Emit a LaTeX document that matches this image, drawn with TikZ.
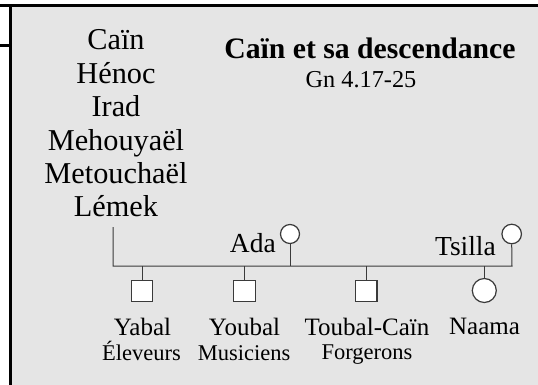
\documentclass[tikz,border=0pt]{standalone}
\usepackage{fontspec}
\setmainfont{Liberation Serif}
\definecolor{bgray}{HTML}{E5E5E5}
\definecolor{lgray}{HTML}{3A3A3A}
\begin{document}
\begin{tikzpicture}[x=1pt,y=-1pt,
  anc/.style={anchor=base,inner sep=0pt,font=\fontsize{30.3}{33}\selectfont},
  spouse/.style={anchor=base east,inner sep=0pt,font=\fontsize{27.5}{30}\selectfont},
  child/.style={anchor=base,inner sep=0pt,font=\fontsize{25}{27}\selectfont},
  occ/.style={anchor=base,inner sep=0pt,font=\fontsize{22.5}{24}\selectfont},
  male/.style={draw=lgray,fill=white,line width=1.2pt,minimum size=21.5pt,inner sep=0pt,rectangle},
  female/.style={draw=lgray,fill=white,line width=1.2pt,inner sep=0pt,circle},
  link/.style={draw=lgray,line width=1pt}]
\useasboundingbox (0,0) rectangle (538,385);
\fill[bgray] (12,7) rectangle (538,385);
\draw[line width=3pt] (0,6) -- (538,6);
\draw[line width=3pt] (10.5,6) -- (10.5,385);
\draw[line width=3pt] (0,46) -- (10.5,46);
% ancestors
\node[anc] (cain) at (116,50) {Caïn};
\node[anc] (henoc) at (116,83.3) {Hénoc};
\node[anc] (irad) at (116,116.7) {Irad};
\node[anc] (mehou) at (116,150) {Mehouyaël};
\node[anc] (metou) at (116,183.3) {Metouchaël};
\node[anc] (lemek) at (116,216.7) {Lémek};
% title
\node[anchor=base,inner sep=0pt,font=\bfseries\fontsize{29.7}{31}\selectfont] (title) at (370,59) {Caïn et sa descendance};
\node[anchor=base,inner sep=0pt,font=\fontsize{24.3}{26}\selectfont] (ref) at (361,88) {Gn 4.17-25};
% spouses
\node[female,minimum size=19pt] (ada) at (290,234) {};
\node[female,minimum size=19.5pt] (tsilla) at (511.7,234) {};
\node[spouse] (lada) at (276,252) {Ada};
\node[spouse] (ltsilla) at (496,255) {Tsilla};
% bar
\coordinate (ltop) at (113,227);
\coordinate (bl) at (113,266);
\coordinate (br) at (512,266);
\draw[link] (ltop) -- (bl) -- (br) -- (tsilla.south);
\draw[link] (ada.south) -- (ada |- bl);
% children
\node[male] (yabal) at (142,291) {};
\node[male] (youbal) at (244.5,291) {};
\node[male] (toubal) at (366.3,291) {};
\node[female,minimum size=24pt] (naama) at (484.3,290.5) {};
\foreach \c in {yabal,youbal,toubal,naama} \draw[link] (\c.north) -- (\c |- bl);
\node[child] (lyabal) at (142.5,335) {Yabal};
\node[child] (lyoubal) at (244.5,335) {Youbal};
\node[child] (ltoubal) at (367,335) {Toubal-Caïn};
\node[child] (lnaama) at (484.5,334) {Naama};
\node[occ] (oyabal) at (141.5,360) {Éleveurs};
\node[occ] (oyoubal) at (244,360) {Musiciens};
\node[occ] (otoubal) at (367,359) {Forgerons};
\end{tikzpicture}
\end{document}
